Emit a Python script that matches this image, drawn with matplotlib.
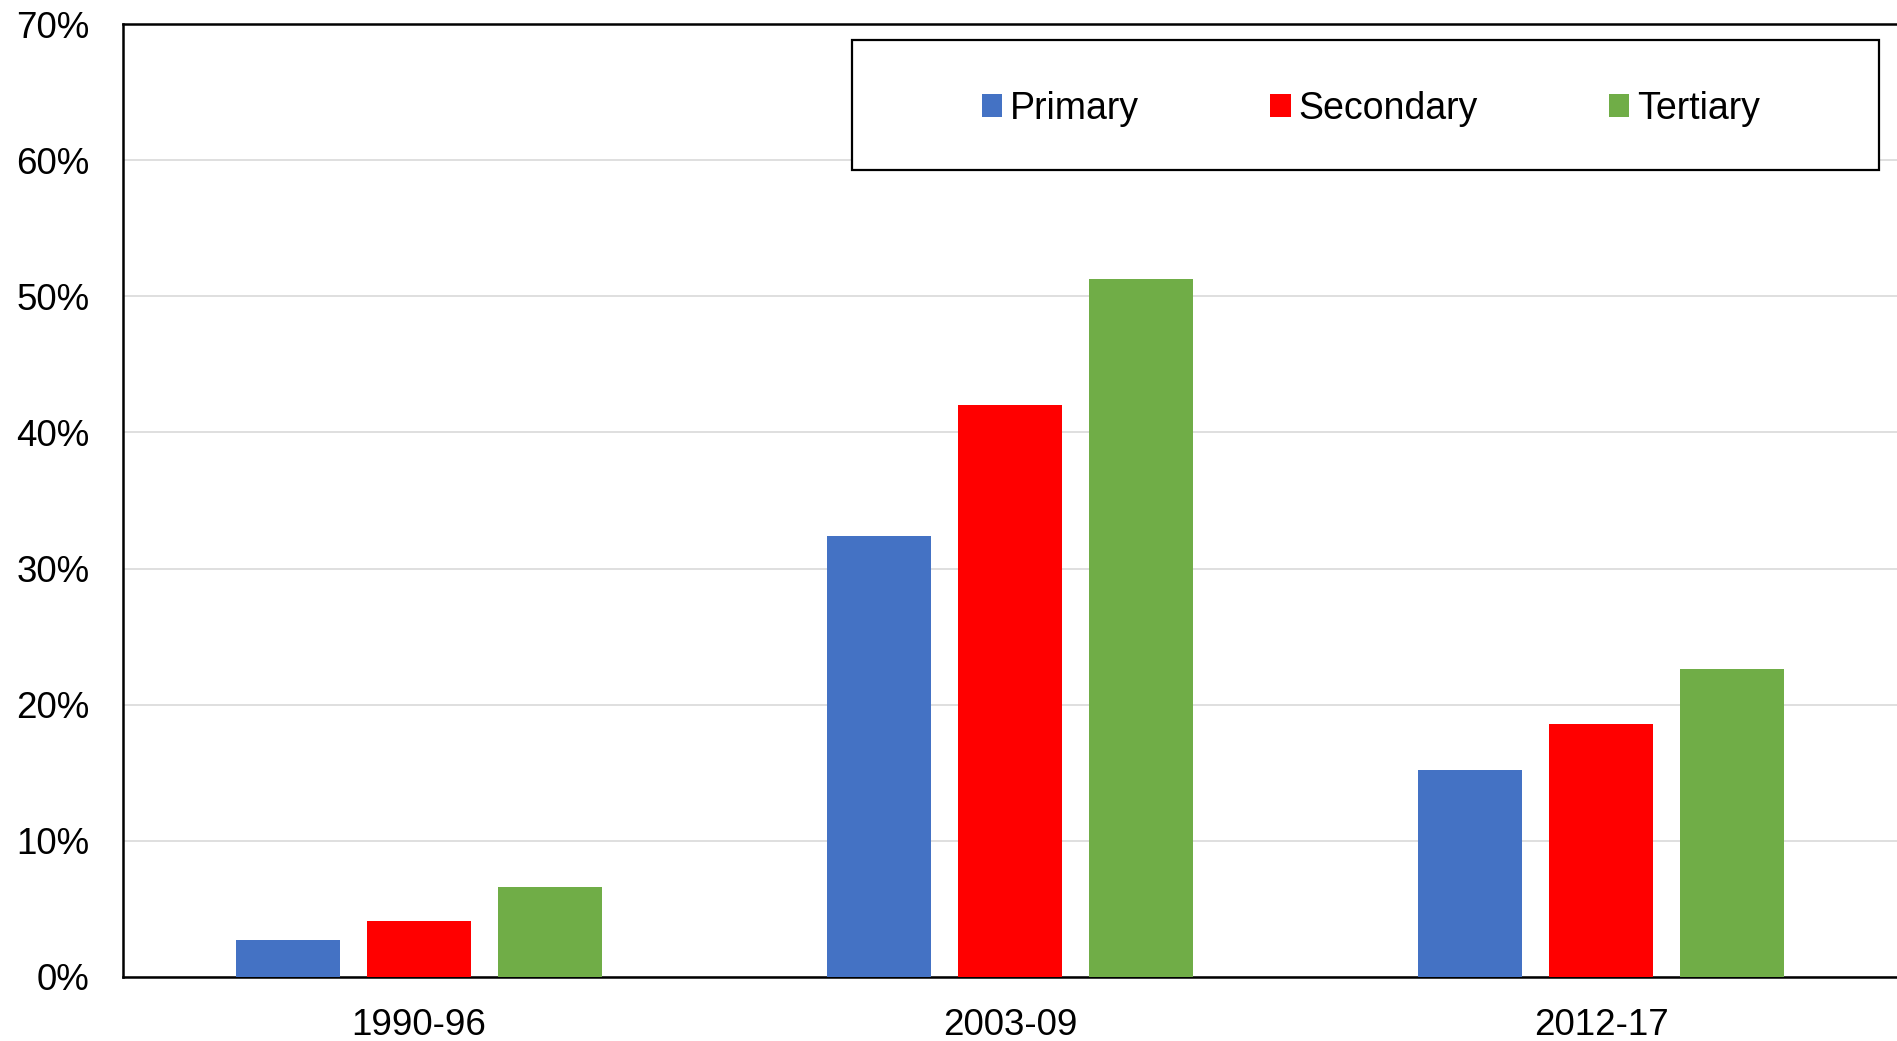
import numpy as np
import matplotlib.pyplot as plt
from matplotlib.patches import Rectangle
from matplotlib.ticker import PercentFormatter

periods = ['1990-96', '2003-09', '2012-17']
series = ['Primary', 'Secondary', 'Tertiary']
primary = [2.75, 32.4, 15.2]
secondary = [4.1, 42.0, 18.6]
tertiary = [6.6, 51.3, 22.6]
colors = ['#4472C4', '#FF0000', '#70AD47']

plt.rcParams['font.family'] = ['Liberation Sans', 'DejaVu Sans']

fig = plt.figure(figsize=(18.97, 10.41), dpi=100)
ax = fig.add_axes([123 / 1897, 1 - 977 / 1041, 1 - 123 / 1897, 953 / 1041])

x = np.arange(len(periods))
step = 0.2217
width = 0.176
for i, (name, vals) in enumerate(zip(series, [primary, secondary, tertiary])):
    ax.bar(x + (i - 1) * step, vals, width, color=colors[i], label=name, zorder=3)

ax.set_xlim(-0.5, 2.5)
ax.set_ylim(0, 70)
ax.set_yticks(range(0, 71, 10))
ax.yaxis.set_major_formatter(PercentFormatter(decimals=0))
ax.set_xticks(x)
ax.set_xticklabels(periods)
ax.tick_params(axis='both', length=0, labelsize=26.5)
ax.tick_params(axis='y', pad=24)
ax.tick_params(axis='x', pad=22)
ax.grid(axis='y', color='#d9d9d9', linewidth=1.2, zorder=0)
ax.set_axisbelow(True)

for s in ['left', 'top', 'bottom']:
    ax.spines[s].set_linewidth(1.8)
    ax.spines[s].set_color('black')
ax.spines['right'].set_visible(False)

# legend box drawn as its own rectangle so it can be wider than the entries
x0, x1 = (852 - 123) / 1774, (1879 - 123) / 1774
y0, y1 = (977 - 170) / 953, (977 - 40) / 953
ax.add_patch(Rectangle((x0, y0), x1 - x0, y1 - y0, transform=ax.transAxes,
                       facecolor='white', edgecolor='black', linewidth=1.6,
                       zorder=4, clip_on=False))

leg = ax.legend(loc='center', bbox_to_anchor=(x0 + 0.003, y0 - 0.004, x1 - x0, y1 - y0),
                ncol=3, fontsize=27, frameon=False,
                handlelength=0.55, handleheight=0.55, handletextpad=0.2,
                columnspacing=3.5, borderaxespad=0)
leg.set_zorder(5)

plt.savefig('out.png', dpi=100)
